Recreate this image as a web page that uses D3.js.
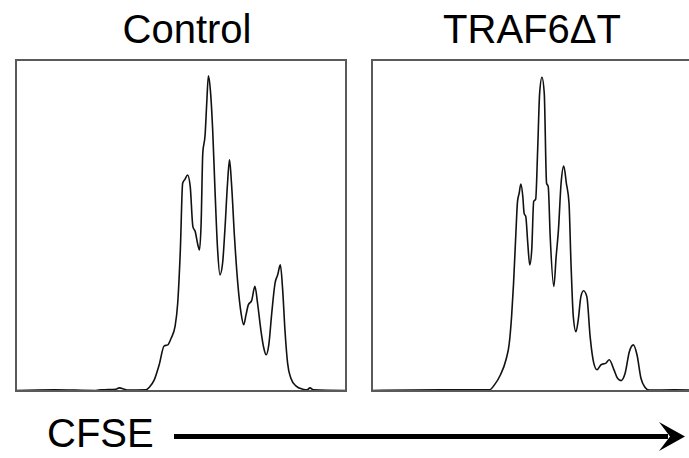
<!DOCTYPE html>
<meta charset="utf-8">
<style>
    body { margin: 0; background: #fff; }
    .frame { fill: none; stroke: #5a5a5a; stroke-width: 2px; }
    .line { fill: none; stroke: #111; stroke-width: 1.6px; stroke-linejoin: round; }
    .title { font-family: "Liberation Sans", Arial, sans-serif; font-size: 40px; fill: #000; }
</style>
<title>CFSE histograms</title>
<script src="https://d3js.org/d3.v7.min.js"></script>
<body>
<div id="chart"></div>
<script>
    // CFSE channel (0-1000) and relative cell count (% of panel height)
    var panelNames = ["Control", "TRAF6\u0394T"];

    var controlChannel = [0, 116, 242, 258, 303, 313, 328, 338, 394, 404, 419, 434, 449, 460, 470, 482, 490, 498,
        505, 512, 520, 528, 536, 543, 551, 556, 561, 566, 573, 578, 583, 589, 596, 603, 611, 618, 626, 633,
        641, 647, 653, 662, 672, 682, 690, 697, 704, 714, 724, 732, 742, 751, 758, 766, 775, 785, 793, 801,
        808, 815, 823, 833, 848, 869, 882, 891, 901, 1000];
    var controlCount = [0, 0.2, 0, 0.2, 0.4, 0.8, 0.4, 0.1, 0.2, 1.0, 3.2, 7.8, 13.5, 13.8, 15.8, 19.4, 26.4, 42.5,
        62.7, 63.9, 65.2, 61.7, 49.6, 48.1, 44.1, 42.5, 50.6, 71.8, 77.3, 86.9, 95.2, 90.9, 78.8, 60.7, 42.5, 35.0, 38.5, 48.6,
        62.7, 69.8, 62.7, 46.6, 32.5, 23.4, 19.9, 22.9, 25.9, 27.2, 31.5, 26.4, 18.3, 12.8, 10.8, 13.8, 23.4, 32.5, 35.0, 38.0,
        30.6, 18.3, 8.3, 3.7, 1.4, 0.4, 0.2, 0.8, 0.2, 0];

    var traf6Channel = [0, 209, 356, 371, 389, 406, 416, 423, 429, 436, 441, 446, 451, 457, 461, 466, 472, 478,
        484, 490, 496, 502, 508, 515, 522, 529, 534, 540, 551, 558, 565, 573, 581, 589, 597, 603, 610, 618,
        625, 633, 641, 651, 661, 672, 682, 694, 709, 719, 733, 744, 755, 767, 780, 792, 803, 815, 827, 840, 916, 1000];
    var traf6Count = [0, 0.2, 0.2, 1.7, 4.7, 9.3, 14.3, 22.4, 32.5, 47.6, 57.2, 59.7, 62.5, 58.7, 53.6, 52.6, 44.6, 38.0,
        42.5, 57.2, 57.9, 72.8, 89.9, 94.8, 89.9, 62.7, 61.7, 46.6, 31.5, 40.5, 48.6, 62.7, 67.9, 62.7, 56.7, 38.5, 22.4, 17.8,
        21.4, 28.4, 30.2, 28.4, 16.3, 8.3, 6.3, 7.8, 8.3, 9.3, 6.3, 3.7, 3.0, 5.2, 11.8, 13.8, 10.8, 3.7, 1.0, 0.1, 0.2, 0];

    var series = [
        d3.zip(controlChannel, controlCount),
        d3.zip(traf6Channel, traf6Count)
    ];

    var canvasWidth = 689, canvasHeight = 458;
    var panelW = 330, panelH = 331, panelTop = 60;
    var panelLeft = [16, 372];
    var titleX = [187, 532];

    var svg = d3.select("#chart").append("svg")
        .attr("width", canvasWidth)
        .attr("height", canvasHeight);

    var x = d3.scaleLinear().domain([0, 1000]).range([0, panelW]),
        y = d3.scaleLinear().domain([0, 100]).range([panelH - 0.5, 0]);

    var line = d3.line()
        .curve(d3.curveMonotoneX)
        .x(function(d) { return x(d[0]); })
        .y(function(d) { return y(d[1]); });

    series.forEach(function(values, i) {
        var g = svg.append("g")
            .attr("transform", "translate(" + panelLeft[i] + "," + panelTop + ")");

        g.append("path")
            .attr("class", "line")
            .attr("d", line(values));

        g.append("rect")
            .attr("class", "frame")
            .attr("width", panelW)
            .attr("height", panelH);

        svg.append("text")
            .attr("class", "title")
            .attr("x", titleX[i])
            .attr("y", 43)
            .attr("text-anchor", "middle")
            .text(panelNames[i]);
    });

    // axis label with arrow
    svg.append("text")
        .attr("class", "title")
        .attr("x", 47)
        .attr("y", 447)
        .text("CFSE");

    svg.append("line")
        .attr("x1", 174).attr("y1", 436.5)
        .attr("x2", 668).attr("y2", 436.5)
        .attr("stroke", "#000")
        .attr("stroke-width", 5);

    svg.append("path")
        .attr("d", "M685,436.5 L659,422 L670,436.5 L659,451 Z")
        .attr("fill", "#000");
</script>
</body>
